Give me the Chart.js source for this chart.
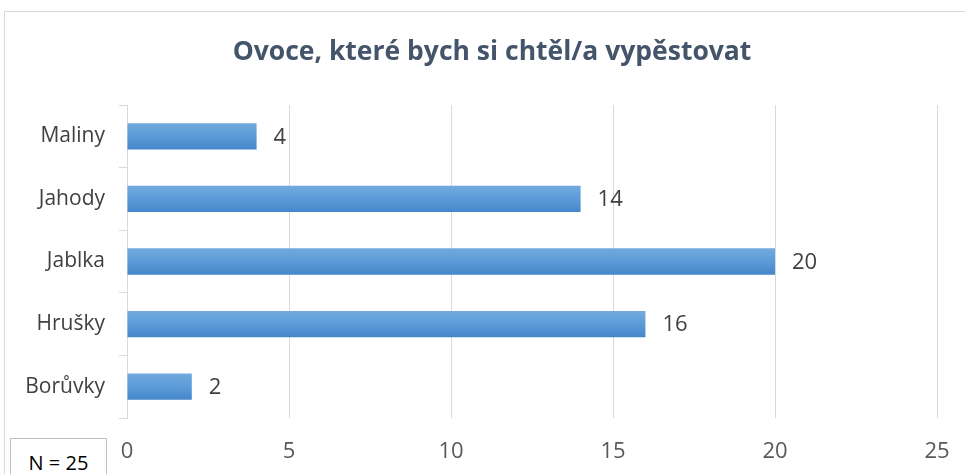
<!DOCTYPE html>
<html>
<head>
<meta charset="utf-8">
<script src="https://cdn.jsdelivr.net/npm/chart.js@4"></script>
<style>
    html, body { margin: 0; padding: 0; background: #fff; overflow: hidden; }
    #wrap { position: relative; width: 965px; height: 474px; }
    #frame { position: absolute; left: 4px; top: 11px; width: 980px; height: 480px; border: 1px solid #d9d9d9; pointer-events: none; }
    #nbox {
        position: absolute; left: 10px; top: 438px; width: 97px; height: 50px;
        border: 1px solid #bfbfbf; background: #fff;
        font-family: 'Open Sans', sans-serif; font-size: 20px; color: #000;
        box-sizing: border-box;
    }
    #nbox span { position: absolute; left: 0; right: 0; text-align: center; top: 12px; line-height: 24px; }
</style>
</head>
<body>
<div id="wrap">
    <canvas id="chart" width="965" height="474"></canvas>
    <div id="frame"></div>
    <div id="nbox"><span>N = 25</span></div>
</div>
<script>
// Data
const chartTitle = 'Ovoce, které bych si chtěl/a vypěstovat';
const categories = ['Maliny', 'Jahody', 'Jablka', 'Hrušky', 'Borůvky'];
const values = [4, 14, 20, 16, 2];
const xTicks = [0, 5, 10, 15, 20, 25];

const FONT = "'Open Sans', sans-serif";

// Gradient per bar, like the Office style fill
function barFill(context) {
    const chart = context.chart;
    const yScale = chart.scales.y;
    if (!chart.chartArea || !yScale) return '#5b9bd5';
    const yc = yScale.getPixelForValue(context.dataIndex);
    const g = chart.ctx.createLinearGradient(0, yc - 13, 0, yc + 13);
    g.addColorStop(0, '#72a9de');
    g.addColorStop(0.5, '#5c9bd8');
    g.addColorStop(1, '#4587cb');
    return g;
}

// Title centred over the whole frame, not only over the plot
const titleText = {
    id: 'titleText',
    afterDraw(chart) {
        const ctx = chart.ctx;
        ctx.save();
        ctx.font = 'bold 26.5px ' + FONT;
        ctx.fillStyle = '#44546a';
        ctx.textAlign = 'center';
        ctx.textBaseline = 'middle';
        ctx.fillText(chartTitle, 492, 52);
        ctx.restore();
    }
};

// Value labels to the right of bars
const valueLabels = {
    id: 'valueLabels',
    afterDatasetsDraw(chart) {
        const ctx = chart.ctx;
        const meta = chart.getDatasetMeta(0);
        ctx.save();
        ctx.font = '22px ' + FONT;
        ctx.fillStyle = '#404040';
        ctx.textAlign = 'left';
        ctx.textBaseline = 'middle';
        meta.data.forEach((bar, i) => {
            ctx.fillText(String(values[i]), bar.x + 17, bar.y + 1);
        });
        ctx.restore();
    }
};

new Chart(document.getElementById('chart'), {
    type: 'bar',
    data: {
        labels: categories,
        datasets: [{
            data: values,
            backgroundColor: barFill,
            borderWidth: 0,
            categoryPercentage: 1,
            barPercentage: 0.42
        }]
    },
    options: {
        indexAxis: 'y',
        responsive: false,
        animation: false,
        layout: { padding: { left: 0, right: 28, top: 105, bottom: 0 } },
        plugins: {
            legend: { display: false },
            tooltip: { enabled: false },
            title: { display: false }
        },
        scales: {
            x: {
                min: 0,
                max: 25,
                afterBuildTicks(scale) {
                    scale.ticks = xTicks.map(v => ({ value: v }));
                },
                afterFit(scale) {
                    scale.height = 56;
                    scale.paddingLeft = 0;
                    scale.paddingRight = 0;
                },
                border: { display: false },
                grid: { color: '#d9d9d9', lineWidth: 1, drawTicks: false },
                ticks: {
                    color: '#595959',
                    font: { family: FONT, size: 22 },
                    padding: 21
                }
            },
            y: {
                afterFit(scale) { scale.width = 127; },
                border: { display: true, color: '#d9d9d9' },
                grid: { offset: true, drawOnChartArea: false, color: '#d9d9d9', tickLength: 8 },
                ticks: {
                    color: '#404040',
                    font: { family: FONT, size: 21 },
                    padding: 14
                }
            }
        }
    },
    plugins: [valueLabels, titleText]
});
</script>
</body>
</html>
